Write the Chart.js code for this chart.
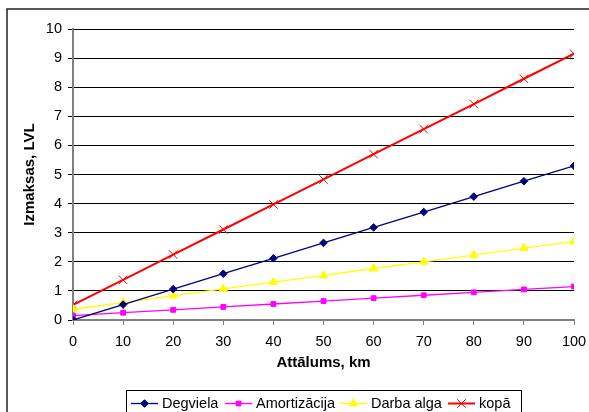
<!DOCTYPE html>
<html>
<head>
<meta charset="utf-8">
<script src="https://cdn.jsdelivr.net/npm/chart.js@4"></script>
<style>
  html, body { margin: 0; padding: 0; background: #fff; }
  #wrap { width: 589px; height: 412px; position: relative; }
</style>
</head>
<body>
<div id="wrap"><canvas id="grafiks" width="589" height="412"></canvas></div>
<script>
let distance = [0, 10, 20, 30, 40, 50, 60, 70, 80, 90, 100];
let fuel = [0, 0.53, 1.06, 1.59, 2.12, 2.65, 3.18, 3.71, 4.24, 4.77, 5.3];
let amortization = [0.15, 0.25, 0.35, 0.45, 0.55, 0.65, 0.75, 0.85, 0.95, 1.05, 1.15];
let salary = [0.37, 0.6, 0.84, 1.07, 1.3, 1.53, 1.77, 2.0, 2.23, 2.47, 2.7];
let total = [0.52, 1.38, 2.25, 3.11, 3.97, 4.83, 5.7, 6.56, 7.42, 8.29, 9.15];

let seriesNames = ["Degviela", "Amortizācija", "Darba alga", "kopā"];
let yTitle = "Izmaksas, LVL";
let xTitle = "Attālums, km";

const FONT = "'Liberation Sans', Arial, sans-serif";

function toPoints(values) {
    return distance.map((d, i) => ({ x: d, y: values[i] }));
}

// legend sample x positions (line start, text start)
let legendSlots = [[131, 162], [225, 256], [340, 371], [448, 479]];

const framePlugin = {
    id: "frame",
    beforeDraw(chart) {
        let ctx = chart.ctx;
        ctx.save();
        ctx.fillStyle = "#fff";
        ctx.fillRect(0, 0, chart.width, chart.height);
        ctx.strokeStyle = "#222";
        ctx.lineWidth = 1.5;
        ctx.beginPath();
        ctx.moveTo(7, chart.height + 2);
        ctx.lineTo(7, 9);
        ctx.lineTo(chart.width + 2, 9);
        ctx.stroke();
        ctx.restore();
    },
    afterDraw(chart) {
        let ctx = chart.ctx;
        ctx.save();
        ctx.strokeStyle = "#000";
        ctx.lineWidth = 1;
        ctx.strokeRect(126.5, 390.5, 395, 40);
        ctx.font = "14.5px " + FONT;
        ctx.textBaseline = "middle";
        chart.data.datasets.forEach((ds, i) => {
            let [lx, tx] = legendSlots[i];
            let y = 403.5;
            ctx.strokeStyle = ds.borderColor;
            ctx.fillStyle = ds.borderColor;
            ctx.lineWidth = ds.borderWidth;
            ctx.beginPath();
            ctx.moveTo(lx, y);
            ctx.lineTo(lx + 27, y);
            ctx.stroke();
            ctx.lineWidth = 1;
            Chart.helpers.drawPoint(ctx, {
                pointStyle: ds.pointStyle,
                radius: ds.pointRadius,
                borderWidth: ds.pointBorderWidth
            }, lx + 13.5, y);
            ctx.fillStyle = "#000";
            ctx.fillText(ds.label, tx, y);
        });
        ctx.restore();
    }
};

function makeDataset(label, values, color, style, radius, width) {
    return {
        label: label,
        data: toPoints(values),
        borderColor: color,
        backgroundColor: color,
        pointBackgroundColor: color,
        pointBorderColor: color,
        borderWidth: width,
        pointStyle: style,
        pointRadius: radius,
        pointHoverRadius: radius,
        pointBorderWidth: 1,
        tension: 0
    };
}

let chart = new Chart(document.getElementById("grafiks"), {
    type: "line",
    data: {
        datasets: [
            makeDataset(seriesNames[0], fuel, "#000080", "rectRot", 3.8, 1.3),
            makeDataset(seriesNames[1], amortization, "#ff00ff", "rect", 3.4, 1.3),
            makeDataset(seriesNames[2], salary, "#ffff00", "triangle", 4.8, 1.3),
            makeDataset(seriesNames[3], total, "#ff0000", "crossRot", 6, 2)
        ]
    },
    plugins: [framePlugin],
    options: {
        responsive: false,
        animation: false,
        events: [],
        layout: { padding: { left: 7, top: 29, right: 15, bottom: 40 } },
        plugins: { legend: { display: false }, tooltip: { enabled: false } },
        scales: {
            x: {
                type: "linear",
                min: 0,
                max: 100,
                afterFit: (s) => { s.height = 52; s.paddingLeft = 0; s.paddingRight = 0; },
                ticks: { stepSize: 10, color: "#000", padding: 8, maxRotation: 0, font: { family: FONT, size: 14.5 } },
                grid: { drawOnChartArea: false, tickLength: 5, color: "#808080" },
                border: { color: "#808080", width: 2 },
                title: { display: true, text: xTitle, color: "#000", padding: { top: 0, bottom: 0 }, font: { family: FONT, size: 15, weight: "bold" } }
            },
            y: {
                min: 0,
                max: 10,
                afterFit: (s) => { s.width = 66; s.paddingTop = 0; s.paddingBottom = 0; },
                ticks: { stepSize: 1, color: "#000", padding: 6, font: { family: FONT, size: 14.5 } },
                grid: { color: "#000", tickLength: 5, tickColor: "#000", lineWidth: 1 },
                border: { color: "#808080", width: 2 },
                title: { display: true, text: yTitle, color: "#000", padding: { top: 14, bottom: 0 }, font: { family: FONT, size: 15, weight: "bold" } }
            }
        }
    }
});
</script>
</body>
</html>
